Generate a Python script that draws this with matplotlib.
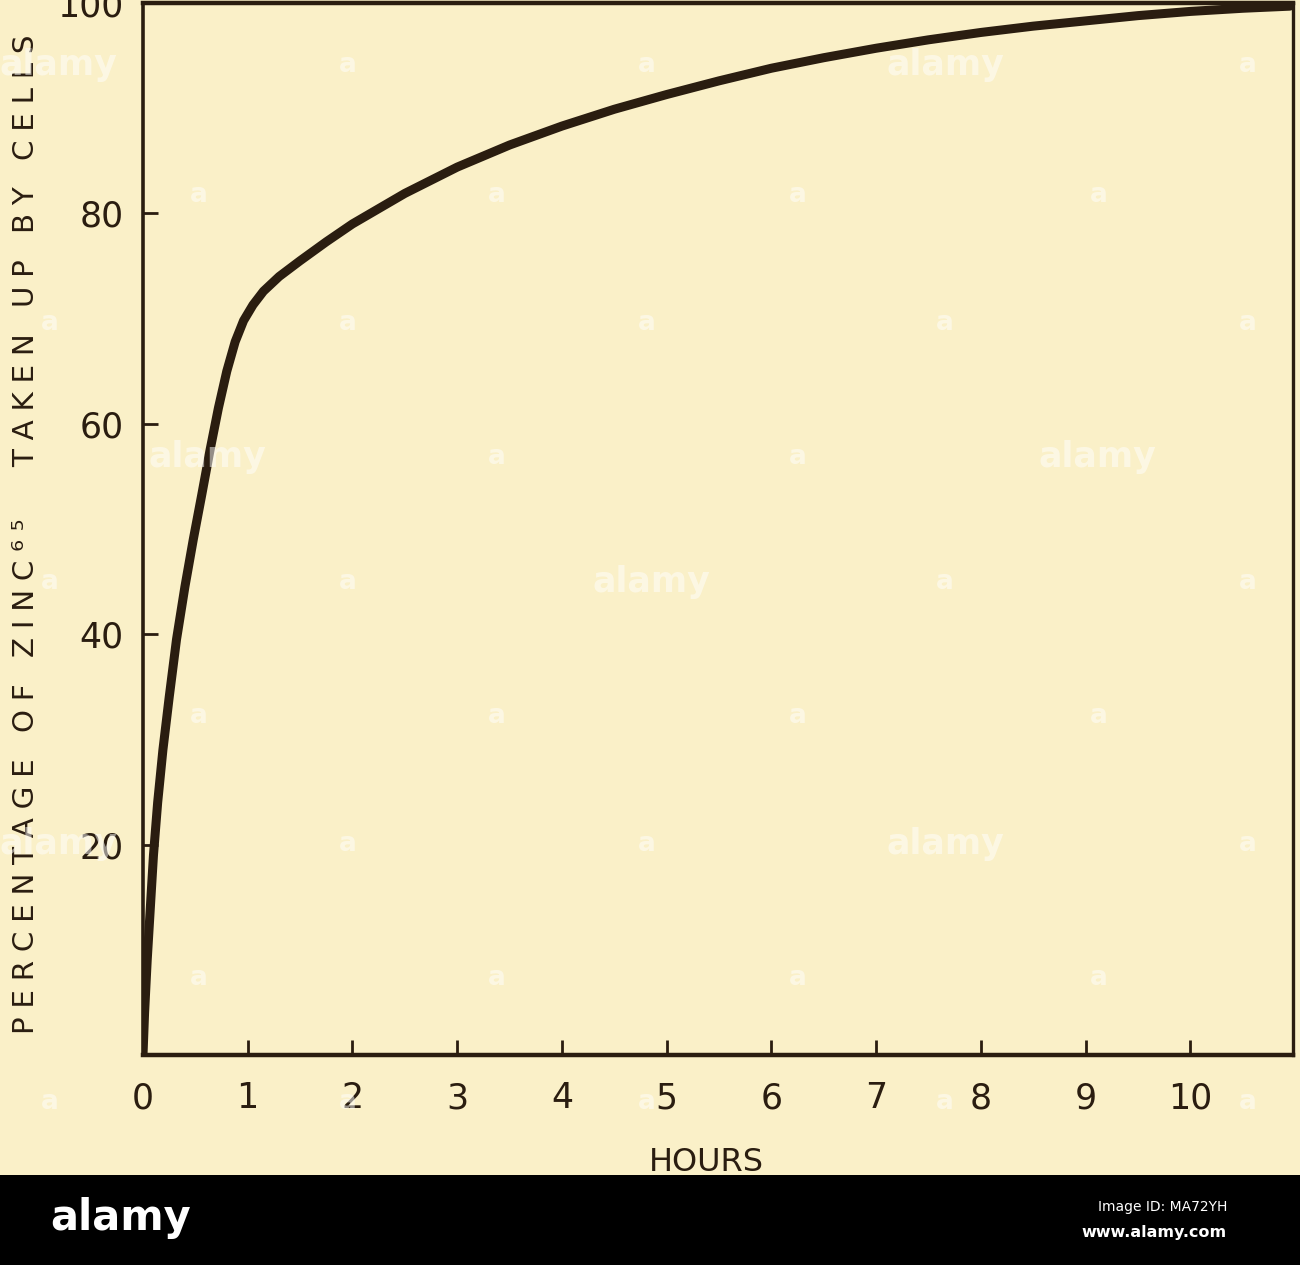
import matplotlib
matplotlib.use("Agg")
import matplotlib.pyplot as plt
from matplotlib.patches import Rectangle

# ---- data ----
hours = [0.00, 0.015, 0.04, 0.07, 0.10, 0.14, 0.19, 0.25, 0.32, 0.40, 0.48,
         0.56, 0.64, 0.72, 0.80, 0.88, 0.96, 1.05, 1.15, 1.30, 1.50, 1.75,
         2.0, 2.5, 3.0, 3.5, 4.0, 4.5, 5.0, 5.5, 6.0, 6.5, 7.0, 7.5, 8.0,
         8.5, 9.0, 9.5, 10.0, 10.5, 10.95]
percent = [0, 4, 9, 14, 19, 24, 29, 34, 39.5, 44.5, 49,
           53.2, 57.5, 61.5, 65, 67.8, 69.8, 71.3, 72.6, 74.0, 75.5, 77.3,
           79.0, 81.9, 84.4, 86.5, 88.3, 89.9, 91.3, 92.6, 93.8, 94.8, 95.7, 96.5, 97.2,
           97.8, 98.3, 98.8, 99.2, 99.5, 99.7]
x_ticks = [0, 1, 2, 3, 4, 5, 6, 7, 8, 9, 10]
x_tick_labels = ["0", "1", "2", "3", "4", "5", "6", "7", "8", "9", "10"]
y_ticks = [20, 40, 60, 80, 100]
y_tick_labels = ["20", "40", "60", "80", "100"]
x_label = "HOURS"
y_words = ["PERCENTAGE", "OF", "ZINC\u2076\u2075", "", "TAKEN", "UP", "BY", "CELLS"]

BG = "#faf0c8"
INK = "#2a1d10"

fig = plt.figure(figsize=(13, 12.65), dpi=100, facecolor=BG)
ax = fig.add_axes([143 / 1300, 210 / 1265, 1150 / 1300, 1052 / 1265])
ax.set_facecolor(BG)

ax.plot(hours, percent, color=INK, lw=6.5, solid_capstyle="round",
        solid_joinstyle="round", zorder=3)

ax.set_xlim(0, 10.98)
ax.set_ylim(0, 100)
ax.set_xticks(x_ticks)
ax.set_xticklabels(x_tick_labels)
ax.set_yticks(y_ticks)
ax.set_yticklabels(y_tick_labels)
ax.tick_params(axis="both", direction="in", length=11, width=2, color=INK,
               labelcolor=INK, labelsize=25)
ax.tick_params(axis="x", pad=19)
ax.tick_params(axis="y", pad=14)

for side, w in [("left", 2.6), ("bottom", 3.2), ("top", 3.2), ("right", 2.4)]:
    ax.spines[side].set_color(INK)
    ax.spines[side].set_linewidth(w)

ax.set_xlabel(x_label, fontsize=23, color=INK)
ax.xaxis.set_label_coords(0.49, -0.0875)

thin = "\u2009\u200a"
ylab = (thin * 3).join(thin.join(w) for w in y_words)
fig.text(26 / 1300, 1 - 534 / 1265, ylab, rotation=90, ha="center", va="center",
         fontsize=21.2, color=INK)

# ---- watermark overlay ----
wm_font = ["Liberation Sans Narrow", "DejaVu Sans"]
big = [(58, 65), (945, 65), (207, 457), (1097, 457), (651, 582), (58, 844), (945, 844)]
rowA_y = [65, 323, 582, 844, 1102]
rowA_x = [50, 348, 647, 945, 1248]
rowB_y = [195, 457, 716, 978]
rowB_x = [199, 497, 798, 1099]
small = [(x, y) for y in rowA_y for x in rowA_x] + [(x, y) for y in rowB_y for x in rowB_x]
for (x, y) in small:
    if any(abs(x - bx) < 60 and abs(y - by) < 40 for bx, by in big):
        continue
    fig.text(x / 1300, 1 - y / 1265, "a", ha="center", va="center", fontsize=19,
             color="white", alpha=0.5, family=wm_font, fontweight="bold")
for (x, y) in big:
    fig.text(x / 1300, 1 - y / 1265, "alamy", ha="center", va="center", fontsize=25,
             color="white", alpha=0.5, family=wm_font, fontweight="bold")

# ---- bottom banner ----
fig.patches.append(Rectangle((0, 0), 1, 90 / 1265, transform=fig.transFigure,
                             facecolor="black", edgecolor="none", zorder=10))
fig.text(50 / 1300, 1 - 1218 / 1265, "alamy", ha="left", va="center", fontsize=30,
         color="white", family=wm_font, fontweight="bold", zorder=11)
fig.text(1227 / 1300, 1 - 1207 / 1265, "Image ID: MA72YH", ha="right", va="center",
         fontsize=10, color="white", family=wm_font, zorder=11)
fig.text(1227 / 1300, 1 - 1233 / 1265, "www.alamy.com", ha="right", va="center",
         fontsize=11.5, color="white", family=wm_font, fontweight="bold", zorder=11)

fig.savefig("out.png", dpi=100, facecolor=BG)
